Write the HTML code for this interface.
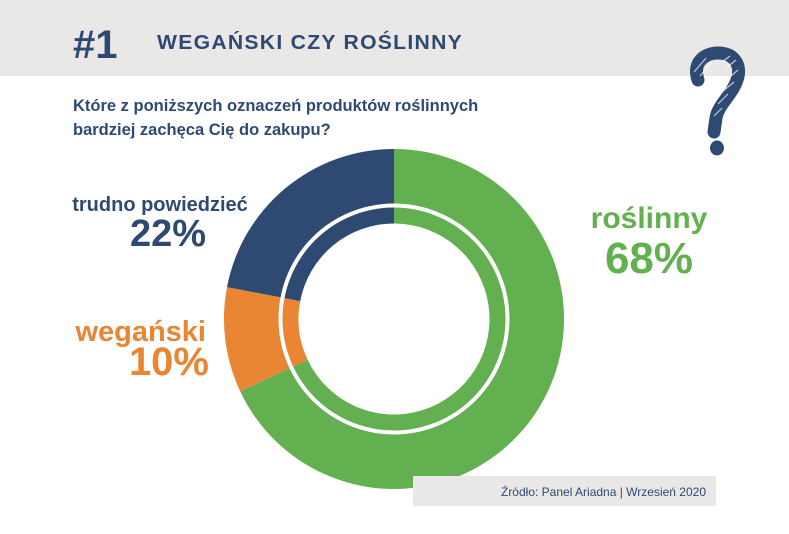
<!DOCTYPE html>
<html><head><meta charset="utf-8"><style>
html,body{margin:0;padding:0;background:#fff;}
body{width:789px;height:534px;position:relative;overflow:hidden;font-family:"Liberation Sans",sans-serif;}
</style></head><body>
<svg width="789" height="534" viewBox="0 0 789 534" xmlns="http://www.w3.org/2000/svg" style="position:absolute;left:0;top:0">
<rect x="0" y="0" width="789" height="76" fill="#e9e8e6"/>
<text x="73" y="58" font-family="Liberation Sans, sans-serif" font-weight="bold" font-size="40" fill="#2e4a72">#1</text>
<text x="157" y="49" font-family="Liberation Sans, sans-serif" font-weight="bold" font-size="20" letter-spacing="1.2" fill="#2e4a72" textLength="306" lengthAdjust="spacingAndGlyphs">WEGAŃSKI CZY ROŚLINNY</text>
<text x="73" y="111" font-family="Liberation Sans, sans-serif" font-weight="bold" font-size="16.5" fill="#2e4a72">Które z poniższych oznaczeń produktów roślinnych</text>
<text x="73" y="135" font-family="Liberation Sans, sans-serif" font-weight="bold" font-size="16.5" fill="#2e4a72">bardziej zachęca Cię do zakupu?</text>
<path d="M698,80 C692,62 705,53 718,53 C735,53 742,66 737,80 C732,95 718,105 716,118 L714,132" fill="none" stroke="#2e4a72" stroke-width="13" stroke-linecap="round"/>
<ellipse cx="717" cy="148" rx="7" ry="7.5" fill="#2e4a72"/>
<path d="M694,72 L706,58 M700,76 L712,62 M722,62 L730,56 M726,68 L736,60 M726,80 L738,70 M722,92 L734,82 M718,104 L728,94 M714,116 L722,108" stroke="#ffffff" stroke-width="1.2" opacity="0.7"/>
<path d="M394,149 A170,170 0 1 1 240.2,391.4 L307.6,359.7 A95.5,95.5 0 1 0 394,223.5 Z" fill="#62b04f"/>
<path d="M240.2,391.4 A170,170 0 0 1 227,287.1 L300.2,301.1 A95.5,95.5 0 0 0 307.6,359.7 Z" fill="#e88633"/>
<path d="M227,287.1 A170,170 0 0 1 394,149 L394,223.5 A95.5,95.5 0 0 0 300.2,301.1 Z" fill="#2e4a72"/>
<circle cx="394" cy="319" r="113.5" fill="none" stroke="#fff" stroke-width="4"/>
<text x="160" y="211" text-anchor="middle" font-family="Liberation Sans, sans-serif" font-weight="bold" font-size="20" fill="#2e4a72">trudno powiedzieć</text>
<text x="206" y="246" text-anchor="end" font-family="Liberation Sans, sans-serif" font-weight="bold" font-size="38" fill="#2e4a72">22%</text>
<text x="649" y="228" text-anchor="middle" font-family="Liberation Sans, sans-serif" font-weight="bold" font-size="30" fill="#62b04f">roślinny</text>
<text x="649" y="273" text-anchor="middle" font-family="Liberation Sans, sans-serif" font-weight="bold" font-size="44" fill="#62b04f">68%</text>
<text x="206" y="341" text-anchor="end" font-family="Liberation Sans, sans-serif" font-weight="bold" font-size="29" fill="#e88633">wegański</text>
<text x="209" y="375" text-anchor="end" font-family="Liberation Sans, sans-serif" font-weight="bold" font-size="40" fill="#e88633">10%</text>
<rect x="413" y="476" width="303" height="30" fill="#e9e8e6"/>
<text x="706" y="496" text-anchor="end" font-family="Liberation Sans, sans-serif" font-size="12" fill="#2e4a72">Źródło: Panel Ariadna | Wrzesień 2020</text>
</svg>
</body></html>
